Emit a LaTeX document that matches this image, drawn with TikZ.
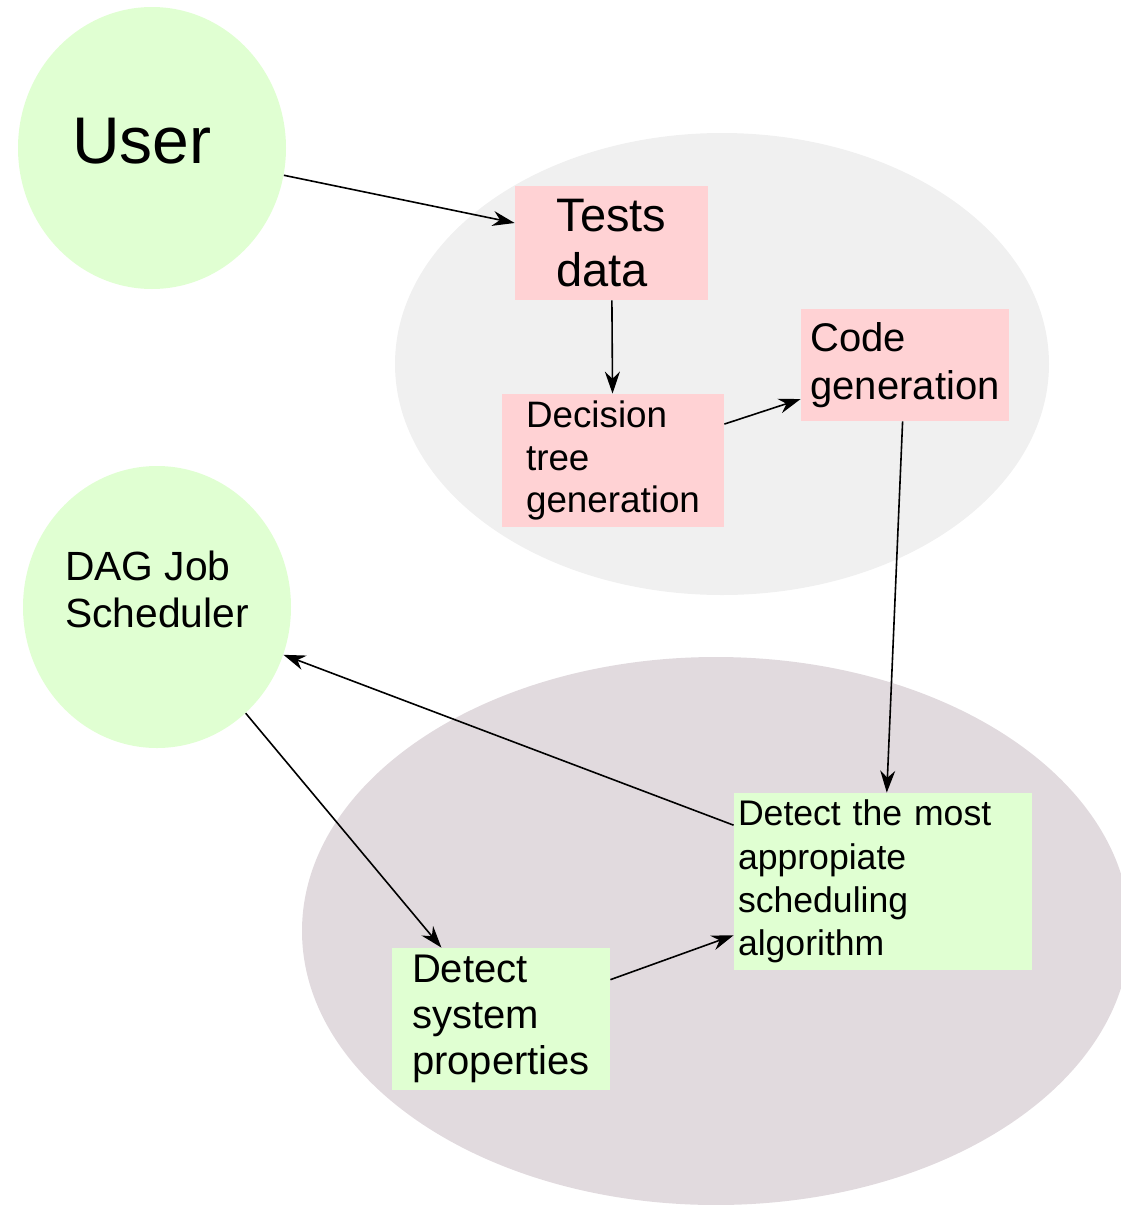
\documentclass[tikz,border=0pt]{standalone}
\usepackage{fontspec}
\setmainfont{Liberation Sans}
\usetikzlibrary{shapes.geometric,arrows.meta}

\definecolor{actorgreen}{RGB}{224,255,210}
\definecolor{stepgreen}{RGB}{224,255,210}
\definecolor{steppink}{RGB}{255,210,212}
\definecolor{buildgrey}{RGB}{240,240,240}
\definecolor{rungrey}{RGB}{225,218,222}

\begin{document}
\begin{tikzpicture}[x=0.5pt, y=-0.5pt,
        actor/.style={ellipse, fill=actorgreen, minimum width=134pt, minimum height=141pt, inner sep=0pt, align=left},
        stepbox/.style={rectangle, inner sep=0pt, align=left},
        arrow/.style={-{Stealth[length=11pt, width=7.5pt]}, line width=0.8pt}
    ]
        \useasboundingbox (0,0) rectangle (1120,1205);

        % Hintergrund
        \fill[buildgrey] (722,364) ellipse [x radius=163.5pt, y radius=115.5pt];
        \fill[rungrey] (716,931) ellipse [x radius=207pt, y radius=137pt];

        % Akteure
        \node[actor, font=\fontsize{33}{38}\selectfont] (user) at (152,148) {\raisebox{3.5pt}[\height][\depth]{User}\kern10pt};
        \node[actor, font=\fontsize{20.4}{23.5}\selectfont] (dag) at (157,607)
            {\raisebox{6pt}[\height][\depth]{\begin{tabular}{@{}l@{}}DAG Job\\Scheduler\end{tabular}}};

        % Erzeugung
        \node[stepbox, fill=steppink, minimum width=96.5pt, minimum height=57pt, font=\fontsize{23.5}{27.5}\selectfont] (tests) at (611.5,243) {Tests\\data};
        \node[stepbox, fill=steppink, minimum width=111pt, minimum height=66.5pt, font=\fontsize{18.4}{21.3}\selectfont] (tree) at (613,460.5) {Decision\\tree\\generation};
        \node[stepbox, fill=steppink, minimum width=104pt, minimum height=56pt, font=\fontsize{20}{24}\selectfont] (code) at (905,365) {Code\\generation};

        % Ausfuehrung
        \node[stepbox, fill=stepgreen, minimum width=109pt, minimum height=71pt, font=\fontsize{20}{23}\selectfont] (props) at (501,1019) {Detect\\system\\properties};
        \node[stepbox, fill=stepgreen, minimum height=88.5pt, text width=145pt, inner xsep=2pt, font=\fontsize{17.8}{21.7}\selectfont] (algo) at (883,881.5) {Detect the most\\appropiate\\scheduling\\algorithm};

        \draw[arrow] (user) -- (tests);
        \draw[arrow] (tests) -- (tree);
        \draw[arrow] (tree) -- (code);
        \draw[arrow] (code) -- (algo);
        \draw[arrow] (algo) -- (dag);
        \draw[arrow] (dag) -- (props);
        \draw[arrow] (props) -- (algo);
    \end{tikzpicture}
\end{document}
